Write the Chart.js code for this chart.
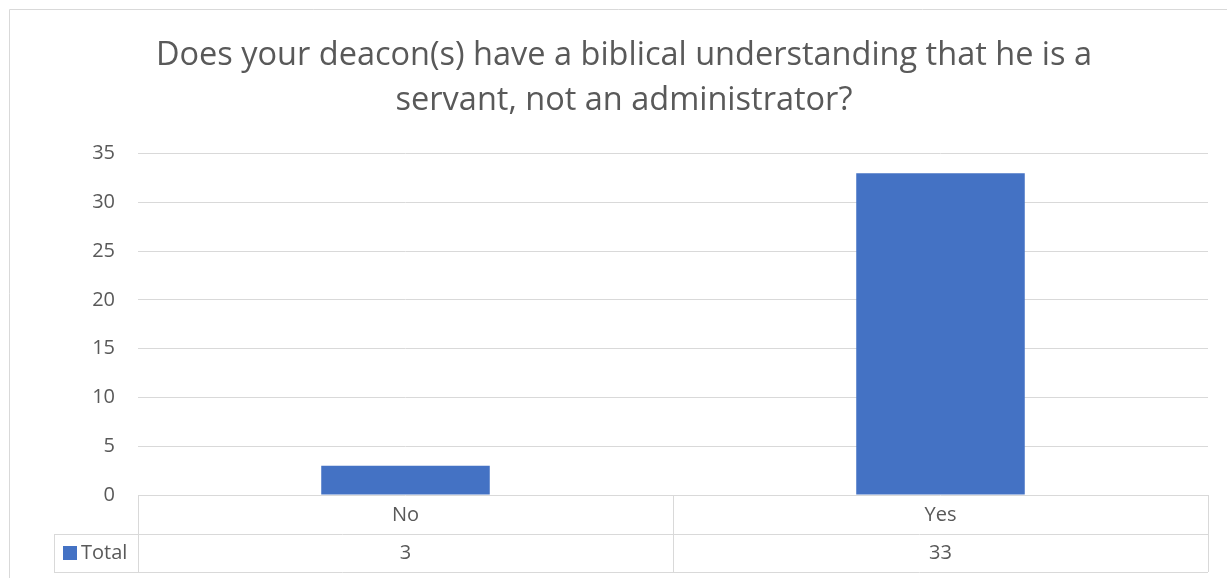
<!DOCTYPE html>
<html>
<head>
<meta charset="utf-8">
<script src="https://cdn.jsdelivr.net/npm/chart.js@4"></script>
<style>
  html, body { margin: 0; padding: 0; background: #fff; }
  #wrap { width: 1227px; height: 578px; }
</style>
</head>
<body>
<div id="wrap"><canvas id="chart"></canvas></div>
<script>
// Data
const categories = ["No", "Yes"];
const totals = [3, 33];
const seriesName = "Total";
const titleLines = ["Does your deacon(s) have a biblical understanding that he is a", "servant, not an administrator?"];

const FONT = "'Open Sans', 'Liberation Sans', sans-serif";
const TEXT = "#595959";
const LINE = "#d9d9d9";
const BAR = "#4472c4";

// outer frame (only top + left show in the crop)
const framePlugin = {
  id: "frame",
  beforeDraw(chart) {
    const ctx = chart.ctx;
    ctx.save();
    ctx.strokeStyle = LINE;
    ctx.lineWidth = 1;
    ctx.beginPath();
    ctx.moveTo(9.5, 578);
    ctx.lineTo(9.5, 9.5);
    ctx.lineTo(1227, 9.5);
    ctx.stroke();
    ctx.restore();
  }
};

// data table under the x axis
const tablePlugin = {
  id: "dataTable",
  afterDraw(chart) {
    const ctx = chart.ctx;
    const x = chart.scales.x;
    const area = chart.chartArea;
    const rowH = 39;
    const top = area.bottom;
    const mid = top + rowH;
    const bot = mid + 38;
    const legendLeft = 54;

    ctx.save();
    ctx.strokeStyle = LINE;
    ctx.lineWidth = 1;
    ctx.beginPath();
    // horizontal lines
    ctx.moveTo(legendLeft, mid + 0.5); ctx.lineTo(area.right, mid + 0.5);
    ctx.moveTo(legendLeft, bot + 0.5); ctx.lineTo(area.right, bot + 0.5);
    // vertical lines at category boundaries
    const half = (x.getPixelForValue(1) - x.getPixelForValue(0)) / 2;
    const bounds = [x.getPixelForValue(0) - half];
    categories.forEach((c, i) => bounds.push(x.getPixelForValue(i) + half));
    bounds.forEach(b => {
      const bx = Math.round(b) + 0.5;
      ctx.moveTo(bx, top); ctx.lineTo(bx, bot);
    });
    ctx.moveTo(legendLeft + 0.5, mid); ctx.lineTo(legendLeft + 0.5, bot);
    ctx.stroke();

    ctx.fillStyle = TEXT;
    ctx.font = "20px " + FONT;
    ctx.textAlign = "center";
    ctx.textBaseline = "middle";
    categories.forEach((c, i) => {
      const cx = x.getPixelForValue(i);
      ctx.fillText(c, cx, top + rowH / 2 + 1);
      ctx.fillText(String(totals[i]), cx, mid + 19);
    });

    // legend key
    ctx.fillStyle = BAR;
    ctx.fillRect(63, mid + 12, 14, 14);
    ctx.fillStyle = TEXT;
    ctx.textAlign = "left";
    ctx.fillText(seriesName, 81, mid + 19);
    ctx.restore();
  }
};

new Chart(document.getElementById("chart"), {
  type: "bar",
  data: {
    labels: categories,
    datasets: [{
      label: seriesName,
      data: totals,
      backgroundColor: BAR,
      barPercentage: 0.63,
      categoryPercentage: 0.5
    }]
  },
  options: {
    responsive: true,
    maintainAspectRatio: false,
    animation: false,
    layout: { padding: { top: 22, right: 19, bottom: 83, left: 40 } },
    plugins: {
      legend: { display: false },
      tooltip: { enabled: false },
      title: {
        display: true,
        text: titleLines,
        color: TEXT,
        font: { family: FONT, size: 32.5, weight: "normal", lineHeight: 1.38 },
        padding: { top: 11, bottom: 31 }
      }
    },
    scales: {
      x: { display: false },
      y: {
        min: 0,
        max: 35,
        ticks: { stepSize: 5, color: TEXT, font: { family: FONT, size: 20 }, padding: 23 },
        grid: { color: LINE, lineWidth: 1, drawTicks: false },
        border: { display: false },
        afterFit(scale) { scale.width = 98; }
      }
    }
  },
  plugins: [framePlugin, tablePlugin]
});
</script>
</body>
</html>
